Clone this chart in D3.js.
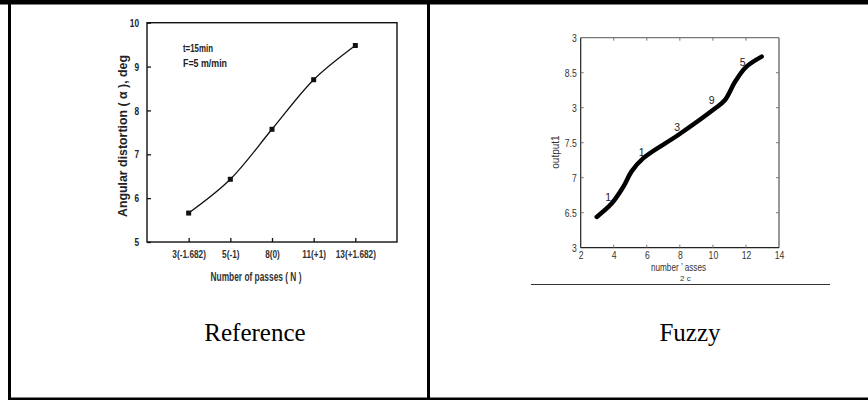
<!DOCTYPE html>
<html>
<head>
<meta charset="utf-8">
<script src="https://cdn.jsdelivr.net/npm/d3@7"></script>
<style>
  body { margin: 0; background: #fff; }
  .narrow { font-family: "Liberation Sans Narrow", "Arial Narrow", "Liberation Sans", Arial, sans-serif; }
  .fuzzy-font { font-family: "Liberation Sans", Arial, sans-serif; }
  .caption { font-family: "Liberation Serif", "Times New Roman", serif; font-size: 25px; }
</style>
</head>
<body>
<script>
// left panel: reference plot
const passLabels = ["3(-1.682)", "5(-1)", "8(0)", "11(+1)", "13(+1.682)"];
const distortion = [5.66, 6.43, 7.57, 8.70, 9.48];
const refYTicks = [5, 6, 7, 8, 9, 10];

// right panel: fuzzy output
const fuzzyX = [2.97, 3.87, 4.58, 5.08, 5.79, 7.90, 10.02, 10.73, 11.34, 12.0, 12.95];
const fuzzyY = [6.44, 6.63, 6.87, 7.09, 7.28, 7.61, 7.97, 8.11, 8.37, 8.58, 8.73];
const fuzzyXTicks = [2, 4, 6, 8, 10, 12, 14];
const fuzzyYTicks = [6, 6.5, 7, 7.5, 8, 8.5, 9];
const fuzzyYTickText = ["3", "6.5", "7", "7.5", "3", "8.5", "3"];
const ruleLabels = ["1", "1", "3", "9", "5"];
const ruleX = [3.67, 5.69, 7.84, 9.93, 11.8];
const ruleY = [6.73, 7.37, 7.72, 8.11, 8.66];

const W = 868, H = 402;
const svg = d3.select("body").append("svg")
  .attr("width", W).attr("height", H);

// make a text narrower (the original uses a condensed face)
function squeeze(sel, k) {
  sel.each(function () {
    const w = this.getComputedTextLength();
    d3.select(this).attr("textLength", w * k).attr("lengthAdjust", "spacingAndGlyphs");
  });
}

// table borders
svg.append("rect").attr("x", 0).attr("y", 0).attr("width", W).attr("height", 4.5).attr("fill", "#000");
svg.append("line").attr("x1", 9.5).attr("x2", 9.5).attr("y1", 0).attr("y2", 400).attr("stroke", "#000").attr("stroke-width", 3);
svg.append("line").attr("x1", 428.5).attr("x2", 428.5).attr("y1", 0).attr("y2", 400).attr("stroke", "#000").attr("stroke-width", 3);
svg.append("line").attr("x1", 8).attr("x2", W).attr("y1", 398.8).attr("y2", 398.8).attr("stroke", "#000").attr("stroke-width", 2.5);

// captions
svg.append("text").attr("class", "caption").attr("x", 255).attr("y", 341)
  .attr("text-anchor", "middle").text("Reference");
svg.append("text").attr("class", "caption").attr("x", 690).attr("y", 341)
  .attr("text-anchor", "middle").text("Fuzzy");

// ---------- left chart ----------
const L = { left: 147, right: 397, top: 22.7, bottom: 242 };
const xRef = d3.scalePoint().domain(passLabels).range([L.left, L.right]).padding(1);
const yRef = d3.scaleLinear().domain([5, 10]).range([L.bottom, L.top]);

const gl = svg.append("g").attr("class", "narrow");
gl.append("rect").attr("x", L.left).attr("y", L.top)
  .attr("width", L.right - L.left).attr("height", L.bottom - L.top)
  .attr("fill", "none").attr("stroke", "#111").attr("stroke-width", 1.4);

const yAxisL = gl.append("g").attr("transform", `translate(${L.left},0)`)
  .call(d3.axisLeft(yRef).tickValues(refYTicks).tickFormat(d3.format("d")).tickSizeInner(-4).tickSizeOuter(0).tickPadding(8));
yAxisL.select(".domain").remove();
yAxisL.selectAll("line").attr("stroke", "#111").attr("stroke-width", 1.3);
yAxisL.selectAll("text").attr("font-size", 11.5).attr("font-weight", "bold").attr("fill", "#222")
  .attr("font-family", null).call(squeeze, 0.72);

const xAxisL = gl.append("g").attr("transform", `translate(0,${L.bottom})`)
  .call(d3.axisBottom(xRef).tickSizeInner(-4).tickSizeOuter(0).tickPadding(8));
xAxisL.select(".domain").remove();
xAxisL.selectAll("line").attr("stroke", "#111").attr("stroke-width", 1.3);
xAxisL.selectAll("text").attr("font-size", 11.5).attr("font-weight", "bold").attr("fill", "#333")
  .attr("font-family", null).call(squeeze, 0.72);

gl.append("text").attr("x", 256).attr("y", 281).attr("text-anchor", "middle")
  .attr("font-size", 12).attr("font-weight", "bold").attr("fill", "#333")
  .attr("textLength", 91).attr("lengthAdjust", "spacingAndGlyphs")
  .text("Number of passes ( N )");
gl.append("text").attr("transform", "translate(127,136) rotate(-90)").attr("text-anchor", "middle")
  .attr("font-size", 13.5).attr("font-weight", "bold").attr("fill", "#222")
  .attr("textLength", 162).attr("lengthAdjust", "spacingAndGlyphs")
  .text("Angular distortion ( \u03b1 ), deg");
gl.append("text").attr("x", 183).attr("y", 52).attr("font-size", 11.5).attr("font-weight", "bold").attr("fill", "#222")
  .attr("textLength", 30).attr("lengthAdjust", "spacingAndGlyphs").text("t=15min");
gl.append("text").attr("x", 183).attr("y", 67).attr("font-size", 11.5).attr("font-weight", "bold").attr("fill", "#222")
  .attr("textLength", 44).attr("lengthAdjust", "spacingAndGlyphs").text("F=5 m/min");

const refLine = d3.line()
  .x((d, i) => xRef(passLabels[i]))
  .y(d => yRef(d))
  .curve(d3.curveCatmullRom);
gl.append("path").datum(distortion).attr("d", refLine)
  .attr("fill", "none").attr("stroke", "#111").attr("stroke-width", 1.3);
gl.selectAll("rect.pt").data(distortion).join("rect").attr("class", "pt")
  .attr("x", (d, i) => xRef(passLabels[i]) - 2.5)
  .attr("y", d => yRef(d) - 2.5)
  .attr("width", 5).attr("height", 5).attr("fill", "#111");

// ---------- right chart ----------
const R = { left: 580.7, right: 779, top: 37.7, bottom: 247.7 };
const xF = d3.scaleLinear().domain([2, 14]).range([R.left, R.right]);
const yF = d3.scaleLinear().domain([6, 9]).range([R.bottom, R.top]);

const gr = svg.append("g").attr("class", "fuzzy-font");
gr.append("line").attr("x1", R.left).attr("x2", R.right).attr("y1", R.top).attr("y2", R.top)
  .attr("stroke", "#777").attr("stroke-width", 1.3);
gr.append("line").attr("x1", R.right).attr("x2", R.right).attr("y1", R.top).attr("y2", R.bottom)
  .attr("stroke", "#444").attr("stroke-width", 1.1);
gr.append("line").attr("x1", R.left).attr("x2", R.left).attr("y1", R.top).attr("y2", R.bottom)
  .attr("stroke", "#222").attr("stroke-width", 1.2);
gr.append("line").attr("x1", R.left).attr("x2", R.right).attr("y1", R.bottom).attr("y2", R.bottom)
  .attr("stroke", "#222").attr("stroke-width", 1.2);

const yAxisR = gr.append("g").attr("transform", `translate(${R.left},0)`)
  .call(d3.axisLeft(yF).tickValues(fuzzyYTicks).tickFormat((d, i) => fuzzyYTickText[i]).tickSize(0).tickPadding(4));
yAxisR.select(".domain").remove();
yAxisR.selectAll("text").attr("font-size", 10.5).attr("fill", "#333").attr("font-family", null)
  .call(squeeze, 0.82);

const xAxisR = gr.append("g").attr("transform", `translate(0,${R.bottom})`)
  .call(d3.axisBottom(xF).tickValues(fuzzyXTicks).tickSize(0).tickPadding(4));
xAxisR.select(".domain").remove();
xAxisR.selectAll("text").attr("font-size", 10.5).attr("fill", "#333").attr("font-family", null)
  .call(squeeze, 0.82);

// faint inner ticks on all sides
const tickCol = "#777";
gr.selectAll("line.tt").data(fuzzyXTicks.slice(1, -1)).join("line").attr("class", "tt")
  .attr("x1", d => xF(d)).attr("x2", d => xF(d)).attr("y1", R.top).attr("y2", R.top + 3)
  .attr("stroke", tickCol);
gr.selectAll("line.tb").data(fuzzyXTicks.slice(1, -1)).join("line").attr("class", "tb")
  .attr("x1", d => xF(d)).attr("x2", d => xF(d)).attr("y1", R.bottom).attr("y2", R.bottom - 3)
  .attr("stroke", tickCol);
gr.selectAll("line.tr").data(fuzzyYTicks.slice(1, -1)).join("line").attr("class", "tr")
  .attr("x1", R.right).attr("x2", R.right - 3).attr("y1", d => yF(d)).attr("y2", d => yF(d))
  .attr("stroke", tickCol);
gr.selectAll("line.tl").data(fuzzyYTicks.slice(1, -1)).join("line").attr("class", "tl")
  .attr("x1", R.left).attr("x2", R.left + 3).attr("y1", d => yF(d)).attr("y2", d => yF(d))
  .attr("stroke", tickCol);

gr.append("text").attr("x", 651).attr("y", 271).attr("font-size", 10).attr("fill", "#333")
  .attr("textLength", 55).attr("lengthAdjust", "spacingAndGlyphs").text("number \u2019 asses");
gr.append("text").attr("x", 680).attr("y", 281).attr("font-size", 8).attr("fill", "#333").text("2 c");
gr.append("text").attr("transform", "translate(559,152) rotate(-90)").attr("text-anchor", "middle")
  .attr("font-size", 10).attr("fill", "#333").text("output1");

const fuzzyLine = d3.line()
  .x((d, i) => xF(fuzzyX[i]))
  .y(d => yF(d))
  .curve(d3.curveCatmullRom);
gr.append("path").datum(fuzzyY).attr("d", fuzzyLine)
  .attr("fill", "none").attr("stroke", "#000").attr("stroke-width", 4.5)
  .attr("stroke-linecap", "round").attr("stroke-linejoin", "round");

gr.selectAll("text.rule").data(ruleLabels).join("text").attr("class", "rule")
  .attr("x", (d, i) => xF(ruleX[i])).attr("y", (d, i) => yF(ruleY[i]) + 4)
  .attr("text-anchor", "middle").attr("font-size", 10.5).attr("fill", "#222").text(d => d);

// rule line below the fuzzy figure
svg.append("line").attr("x1", 531).attr("x2", 830).attr("y1", 284.5).attr("y2", 284.5)
  .attr("stroke", "#333").attr("stroke-width", 1.2);
</script>
</body>
</html>
